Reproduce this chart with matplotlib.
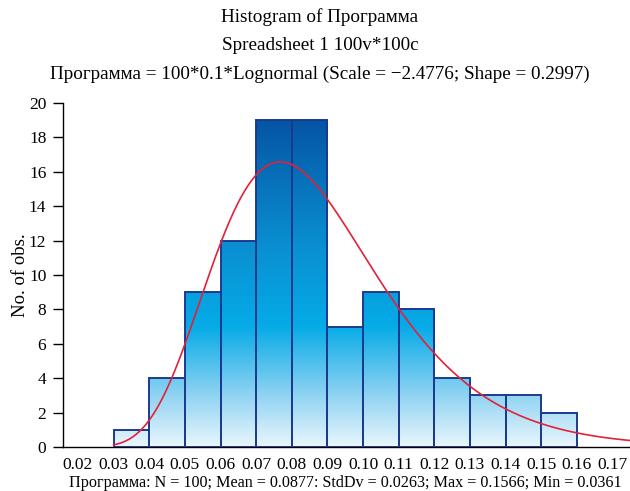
import numpy as np
import matplotlib
matplotlib.use("Agg")
import matplotlib.pyplot as plt
from matplotlib.colors import LinearSegmentedColormap
from matplotlib.patches import Rectangle

plt.rcParams['font.family'] = ['Liberation Serif', 'DejaVu Serif']

# histogram data (bin left edges, counts)
bin_left = [0.03, 0.04, 0.05, 0.06, 0.07, 0.08, 0.09, 0.10, 0.11, 0.12, 0.13, 0.14, 0.15]
counts = [1, 4, 9, 12, 19, 19, 7, 9, 8, 4, 3, 3, 2]
bin_width = 0.01
n_obs = 100

# fitted lognormal parameters (from the title)
ln_scale = -2.4776
ln_shape = 0.2997

xticks = [0.02, 0.03, 0.04, 0.05, 0.06, 0.07, 0.08, 0.09, 0.10, 0.11, 0.12, 0.13, 0.14, 0.15, 0.16, 0.17]
yticks = [0, 2, 4, 6, 8, 10, 12, 14, 16, 18, 20]

fig = plt.figure(figsize=(6.3, 4.91), dpi=100)
ax = fig.add_axes([0.1, 0.0896, 0.9, 0.7004])

cmap = LinearSegmentedColormap.from_list("bars", [
    (0.0, "#eaf6fd"),
    (3 / 19, "#8fd3f2"),
    (7 / 19, "#05abe7"),
    (12 / 19, "#0a8dd0"),
    (1.0, "#0555a4"),
])
grad = np.linspace(0, 1, 256).reshape(-1, 1)
xlo, xhi = 0.0158, 0.1749

for x0, c in zip(bin_left, counts):
    rect = Rectangle((x0, 0), bin_width, c, facecolor="none",
                     edgecolor="#1c3a8e", linewidth=1.4, zorder=3)
    ax.add_patch(rect)
    im = ax.imshow(grad, cmap=cmap, origin="lower", aspect="auto",
                   extent=[xlo, xhi, 0, 19], zorder=2, interpolation="bilinear")
    im.set_clip_path(rect)

# fitted curve: N * bin width * lognormal pdf
xs = np.linspace(0.03, 0.19, 400)
pdf = np.exp(-(np.log(xs) - ln_scale) ** 2 / (2 * ln_shape ** 2)) / (xs * ln_shape * np.sqrt(2 * np.pi))
ax.plot(xs, n_obs * bin_width * pdf, color="#e3213b", linewidth=1.2, zorder=4)

ax.set_xlim(xlo, xhi)
ax.set_ylim(0, 20)
ax.set_xticks(xticks)
ax.set_xticklabels([f"{t:.2f}" for t in xticks], fontsize=12.5)
ax.set_yticks(yticks)
ax.set_yticklabels([str(t) for t in yticks], fontsize=12.5)
ax.tick_params(axis="x", length=0, pad=7)
ax.tick_params(axis="y", direction="out", length=7, width=1, pad=5)

for s in ["top", "right"]:
    ax.spines[s].set_visible(False)
ax.spines["left"].set_linewidth(1)
ax.spines["bottom"].set_linewidth(1)

fig.text(0.033, 0.44, "No. of obs.", rotation=90, ha="center", va="center", fontsize=13.5)
fig.text(0.548, 0.017, "Программа: N = 100; Mean = 0.0877: StdDv = 0.0263; Max = 0.1566; Min = 0.0361",
         ha="center", va="center", fontsize=11.6)

fig.text(0.508, 0.966, "Histogram of Программа", ha="center", va="center", fontsize=13.8)
fig.text(0.508, 0.908, "Spreadsheet 1 100v*100c", ha="center", va="center", fontsize=13.8)
fig.text(0.508, 0.849, "Программа = 100*0.1*Lognormal (Scale = \u22122.4776; Shape = 0.2997)",
         ha="center", va="center", fontsize=13.8)

fig.savefig("out.png", dpi=100)
